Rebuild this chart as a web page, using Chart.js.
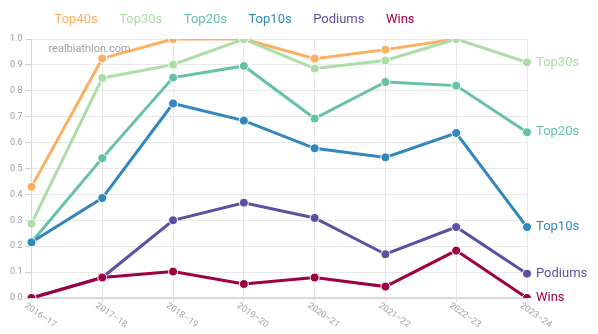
<!DOCTYPE html>
<html>
<head>
<meta charset="utf-8">
<script src="https://cdn.jsdelivr.net/npm/chart.js@4"></script>
<style>
  html, body { margin: 0; padding: 0; background: #fff; }
  #wrap { width: 598px; height: 334px; }
</style>
</head>
<body>
<div id="wrap"><canvas id="chart" width="598" height="334"></canvas></div>
<script>
// data
const seasons = ['2016–17', '2017–18', '2018–19', '2019–20', '2020–21', '2021–22', '2022–23', '2023–24'];
const top40s = [0.429, 0.925, 1.0, 1.0, 0.924, 0.959, 1.0, null];
const top30s = [0.287, 0.849, 0.901, 1.0, 0.886, 0.917, 1.0, 0.91];
const top20s = [0.215, 0.54, 0.851, 0.896, 0.693, 0.834, 0.82, 0.64];
const top10s = [0.215, 0.386, 0.751, 0.685, 0.578, 0.543, 0.637, 0.274];
const podiums = [0, 0.079, 0.3, 0.368, 0.309, 0.169, 0.274, 0.094];
const wins = [0, 0.079, 0.102, 0.054, 0.079, 0.044, 0.183, 0];
const yTicks = [0, 0.1, 0.2, 0.3, 0.4, 0.5, 0.6, 0.7, 0.8, 0.9, 1.0];

const seriesNames = ['Top40s', 'Top30s', 'Top20s', 'Top10s', 'Podiums', 'Wins'];
const seriesData = [top40s, top30s, top20s, top10s, podiums, wins];
const colors = ['#fdae61', '#abdda4', '#66c2a5', '#3288bd', '#5e4fa2', '#9e0142'];

const FONT = 'Roboto, "Open Sans", sans-serif';

// watermark, rotated season labels and end-of-line labels
const extras = {
  id: 'extras',
  afterLayout(chart) {
    // nudge legend to sit like the original
    chart.legend.left += 26;
    chart.legend.right += 26;
    chart.legend.top -= 3;
    chart.legend.bottom -= 3;
  },
  afterDraw(chart) {
    const ctx = chart.ctx;
    const x = chart.scales.x;
    const area = chart.chartArea;
    ctx.save();

    ctx.font = '11px ' + FONT;
    ctx.fillStyle = '#a0a0a0';
    ctx.textAlign = 'left';
    ctx.textBaseline = 'middle';
    ctx.fillText('realbiathlon.com', area.left + 17, area.top + 10);

    ctx.font = '9px ' + FONT;
    ctx.fillStyle = '#a3a3a3';
    seasons.forEach((s, i) => {
      const px = x.getPixelForValue(i);
      ctx.save();
      ctx.translate(px - 6, area.bottom + 7);
      ctx.rotate(35 * Math.PI / 180);
      ctx.textBaseline = 'middle';
      ctx.fillText(s, 0, 0);
      ctx.restore();
    });

    ctx.font = '13px ' + FONT;
    chart.data.datasets.forEach((ds, i) => {
      const last = ds.data.length - 1;
      if (ds.data[last] == null) return;
      const pt = chart.getDatasetMeta(i).data[last];
      ctx.fillStyle = ds.borderColor;
      ctx.fillText(ds.label, pt.x + 9, pt.y);
    });
    ctx.restore();
  }
};

new Chart(document.getElementById('chart'), {
  type: 'line',
  data: {
    labels: seasons,
    datasets: seriesNames.map((name, i) => ({
      label: name,
      data: seriesData[i],
      borderColor: colors[i],
      backgroundColor: colors[i],
      pointBackgroundColor: colors[i],
      pointBorderColor: '#fff',
      pointBorderWidth: 1,
      pointRadius: 4.5,
      borderWidth: 3,
      tension: 0,
      order: seriesNames.length - i
    }))
  },
  options: {
    responsive: false,
    animation: false,
    layout: { padding: { left: 7, right: 71, bottom: 32, top: 1 } },
    plugins: {
      tooltip: { enabled: false },
      legend: {
        position: 'top',
        align: 'start',
        labels: {
          boxWidth: 0,
          boxHeight: 0,
          padding: 15,
          font: { family: FONT, size: 13 },
          generateLabels(chart) {
            return chart.data.datasets.map((ds, i) => ({
              text: ds.label,
              fontColor: ds.borderColor,
              fillStyle: 'transparent',
              strokeStyle: 'transparent',
              lineWidth: 0,
              datasetIndex: i
            }));
          }
        }
      }
    },
    scales: {
      x: {
        offset: false,
        grid: { color: '#e8e8e8', tickLength: 4, tickColor: '#e0e0e0' },
        border: { color: '#d8d8d8', width: 2 },
        ticks: { display: false }
      },
      y: {
        min: 0,
        max: 1,
        afterBuildTicks(axis) { axis.ticks = yTicks.map(v => ({ value: v })); },
        grid: { color: '#e8e8e8', tickLength: 6, tickColor: '#cfcfcf' },
        border: { color: '#d8d8d8', width: 1 },
        ticks: {
          padding: 3,
          color: '#9a9db3',
          font: { family: FONT, size: 9 },
          callback: v => v.toFixed(1)
        }
      }
    }
  },
  plugins: [extras]
});
</script>
</body>
</html>
